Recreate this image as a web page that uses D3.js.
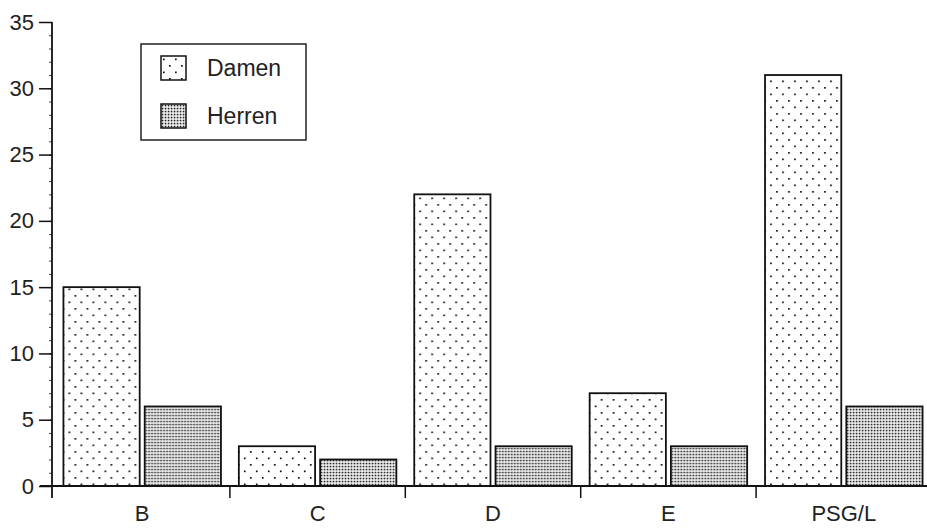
<!DOCTYPE html>
<html>
<head>
<meta charset="utf-8">
<script src="https://cdn.jsdelivr.net/npm/d3@7"></script>
<style>
	body { margin: 0; background: #fff; }
	svg { display: block; font-family: "Liberation Sans", Arial, sans-serif; }
	text { fill: #222; }
</style>
</head>
<body>
<svg id="chart" width="927" height="528"></svg>
<script>
// categories and series
var categories = ["B", "C", "D", "E", "PSG/L"];
var seriesNames = ["Damen", "Herren"];
var damen = [15, 3, 22, 7, 31];
var herren = [6, 2, 3, 3, 6];
var yTicks = [0, 5, 10, 15, 20, 25, 30, 35];

var svg = d3.select("#chart");

init();

function init() {
	makePatterns();
	drawChart();
	drawLegend();
}

function makePatterns() {
	var defs = svg.append("defs");

	// sparse staggered dots
	var p1 = defs.append("pattern")
		.attr("id", "pat-damen")
		.attr("patternUnits", "userSpaceOnUse")
		.attr("width", 12).attr("height", 13);
	p1.append("rect").attr("width", 12).attr("height", 13).attr("fill", "#fff");
	p1.append("rect").attr("x", 2).attr("y", 2.5).attr("width", 1.7).attr("height", 1.7).attr("fill", "#111");
	p1.append("rect").attr("x", 8).attr("y", 9).attr("width", 1.7).attr("height", 1.7).attr("fill", "#111");

	// dense grid dots
	var p2 = defs.append("pattern")
		.attr("id", "pat-herren")
		.attr("patternUnits", "userSpaceOnUse")
		.attr("width", 3).attr("height", 3);
	p2.append("rect").attr("width", 3).attr("height", 3).attr("fill", "#fff");
	p2.append("rect").attr("x", 0.7).attr("y", 0.7).attr("width", 1.7).attr("height", 1.7).attr("fill", "#222");
}

function drawChart() {
	var axisX = 52, baseY = 486;

	var x0 = d3.scaleBand()
		.domain(categories)
		.range([54.5, 931.5])
		.padding(0);

	var x1 = d3.scaleBand()
		.domain(seriesNames)
		.range([0, x0.bandwidth()])
		.paddingInner(0.062)
		.paddingOuter(0.11);

	var y = d3.scaleLinear()
		.domain([0, 35])
		.range([baseY, 22]);

	var rows = categories.map(function(c, i) {
		return { cat: c, values: [
			{ key: "Damen", value: damen[i] },
			{ key: "Herren", value: herren[i] }
		]};
	});

	// bars
	var groups = svg.append("g").selectAll("g")
		.data(rows)
		.enter()
		.append("g")
		.attr("transform", function(d) { return "translate(" + x0(d.cat) + ",0)"; });

	groups.selectAll("rect")
		.data(function(d) { return d.values; })
		.enter()
		.append("rect")
		.attr("x", function(d) { return x1(d.key); })
		.attr("y", function(d) { return y(d.value); })
		.attr("width", x1.bandwidth())
		.attr("height", function(d) { return baseY - y(d.value); })
		.attr("fill", function(d) { return d.key == "Damen" ? "url(#pat-damen)" : "url(#pat-herren)"; })
		.attr("stroke", "#111")
		.attr("stroke-width", 1.8);

	// y axis, minor ticks every 1
	var minor = svg.append("g")
		.attr("transform", "translate(" + axisX + ",0)")
		.call(d3.axisLeft(y).ticks(35).tickSize(3).tickFormat("").tickSizeOuter(0));
	minor.select(".domain").remove();
	minor.selectAll("line").attr("stroke", "#444").attr("stroke-width", 1);

	var yAxis = svg.append("g")
		.attr("transform", "translate(" + axisX + ",0)")
		.call(d3.axisLeft(y).tickValues(yTicks).tickSize(13).tickPadding(5).tickSizeOuter(0));
	yAxis.select(".domain").remove();
	yAxis.selectAll("line").attr("stroke", "#111").attr("stroke-width", 1.5);
	yAxis.selectAll("text")
		.attr("font-size", 22)
		.attr("font-family", "Liberation Sans, Arial, sans-serif")
		.attr("fill", "#222");

	svg.append("line")
		.attr("x1", axisX).attr("x2", axisX)
		.attr("y1", y(35)).attr("y2", baseY + 12)
		.attr("stroke", "#111").attr("stroke-width", 1.8);

	// x axis line and category separators
	svg.append("line")
		.attr("x1", 40).attr("x2", 927)
		.attr("y1", baseY).attr("y2", baseY)
		.attr("stroke", "#111").attr("stroke-width", 1.8);

	svg.append("g").selectAll("line")
		.data(categories.slice(1))
		.enter()
		.append("line")
		.attr("x1", function(d) { return x0(d); })
		.attr("x2", function(d) { return x0(d); })
		.attr("y1", baseY).attr("y2", baseY + 12)
		.attr("stroke", "#111").attr("stroke-width", 1.5);

	var xAxis = svg.append("g")
		.attr("transform", "translate(0," + baseY + ")")
		.call(d3.axisBottom(x0).tickSize(0).tickPadding(19));
	xAxis.select(".domain").remove();
	xAxis.selectAll("text")
		.attr("font-size", 22)
		.attr("font-family", "Liberation Sans, Arial, sans-serif")
		.attr("fill", "#222");
}

function drawLegend() {
	var lg = svg.append("g");
	lg.append("rect")
		.attr("x", 141).attr("y", 44)
		.attr("width", 165).attr("height", 96)
		.attr("fill", "#fff")
		.attr("stroke", "#222").attr("stroke-width", 1.5);

	var items = lg.selectAll("g.item")
		.data(seriesNames)
		.enter()
		.append("g")
		.attr("class", "item")
		.attr("transform", function(d, i) { return "translate(161," + (56 + i * 48) + ")"; });

	items.append("rect")
		.attr("width", 25).attr("height", 24)
		.attr("fill", function(d) { return d == "Damen" ? "url(#pat-damen)" : "url(#pat-herren)"; })
		.attr("stroke", "#111").attr("stroke-width", 1.5);

	items.append("text")
		.attr("x", 46).attr("y", 12)
		.attr("dy", "0.35em")
		.attr("font-size", 23)
		.text(function(d) { return d; });
}
</script>
</body>
</html>
